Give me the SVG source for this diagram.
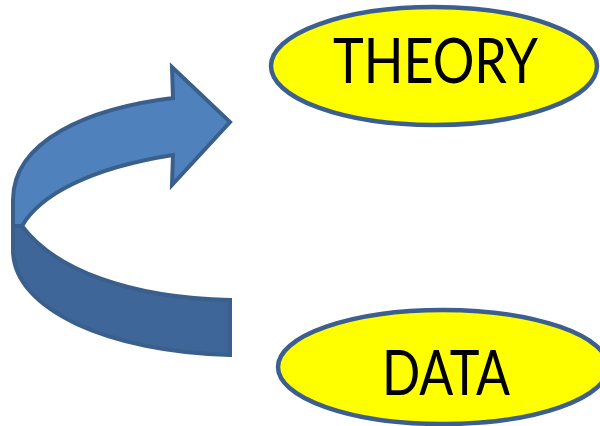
<svg xmlns="http://www.w3.org/2000/svg" width="600" height="426" viewBox="0 0 600 426">
  <style>
    .node ellipse { fill: #FFFF00; stroke: #3C5F8F; stroke-width: 4.5; }
    .node text { font-family: Lato, "Open Sans", "Liberation Sans", sans-serif; font-size: 61px; fill: #000; text-anchor: start; }
    .band { stroke: #3A5F8D; stroke-width: 4; stroke-linejoin: miter; }
  </style>
  <rect width="600" height="426" fill="#FFFFFF"/>

  <!-- curved ribbon arrow rising from the lower band to the arrowhead -->
  <g id="connectors">
    <path class="band" fill="#3F6698" d="M 22,226 C 55,270 130,298 230,300 L 230,355 C 110,352 13,310 13,250 L 13,226 Z"/>
    <path class="band" fill="#4F81BD" d="M 13,226 L 13,200 C 13,140 90,108 173,98 L 172,67 L 230,122 L 172,185 L 173,155 C 90,168 40,195 22,226 Z"/>
  </g>

  <g id="theory" class="node">
    <ellipse cx="434" cy="66" rx="163" ry="59"/>
    <text x="333" y="83" textLength="205" lengthAdjust="spacingAndGlyphs">THEORY</text>
  </g>

  <g id="data" class="node">
    <ellipse cx="443" cy="367" rx="165" ry="57"/>
    <text x="382" y="395" textLength="128" lengthAdjust="spacingAndGlyphs">DATA</text>
  </g>
</svg>
